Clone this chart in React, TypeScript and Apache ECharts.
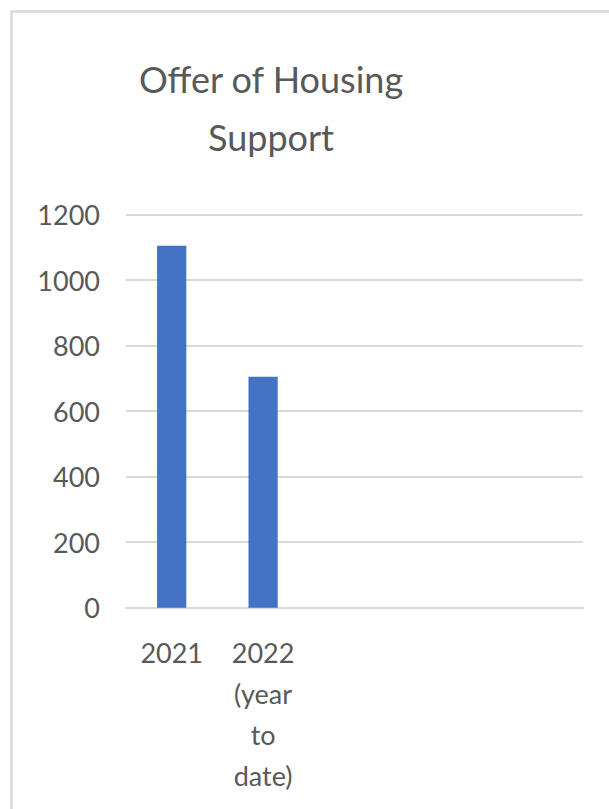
import React, { useEffect, useRef } from "react";
import * as echarts from "echarts";

const titleLines = ["Offer of Housing", "Support"];
const categories = ["2021", "2022\n(year\nto\ndate)", "", "", ""];
const values: (number | null)[] = [1105, 705, null, null, null];
const yMin = 0;
const yMax = 1200;
const yStep = 200;

export default function App() {
  const ref = useRef<HTMLDivElement>(null);
  useEffect(() => {
    if (!ref.current) return;
    const chart = echarts.init(ref.current, undefined, { renderer: "svg" });
    const font = "Lato, 'Open Sans', sans-serif";
    chart.setOption({
      animation: false,
      backgroundColor: "#ffffff",
      graphic: [
        {
          type: "rect",
          shape: { x: 11.5, y: 11.5, width: 800, height: 900 },
          style: { fill: "none", stroke: "#d9d9d9", lineWidth: 2.5 },
          silent: true,
        },
        {
          type: "text",
          x: 271,
          y: 50,
          style: {
            text: titleLines.join("\n"),
            font: `36px ${font}`,
            fill: "#595959",
            align: "center",
            verticalAlign: "top",
            lineHeight: 58,
          },
        },
      ],
      grid: { left: 126, right: 26, top: 214.5, bottom: 201.3 },
      xAxis: {
        type: "category",
        data: categories,
        axisLine: { show: true, lineStyle: { color: "#d9d9d9", width: 2 } },
        axisTick: { show: false },
        axisLabel: {
          interval: 0,
          margin: 24,
          color: "#595959",
          fontSize: 27,
          fontFamily: font,
          lineHeight: 41,
          align: "center",
        },
      },
      yAxis: {
        type: "value",
        min: yMin,
        max: yMax,
        interval: yStep,
        axisLine: { show: false },
        axisTick: { show: false },
        axisLabel: {
          margin: 26,
          color: "#595959",
          fontSize: 27,
          fontFamily: font,
          formatter: (v: number) => String(v),
        },
        splitLine: { lineStyle: { color: "#d9d9d9", width: 2 } },
      },
      series: [
        {
          type: "bar",
          data: values,
          barWidth: "32%",
          itemStyle: { color: "#4472c4" },
        },
      ],
    });
    return () => chart.dispose();
  }, []);
  return (
    <div
      ref={ref}
      style={{ position: "absolute", left: 0, top: 0, width: 609, height: 809 }}
    />
  );
}
